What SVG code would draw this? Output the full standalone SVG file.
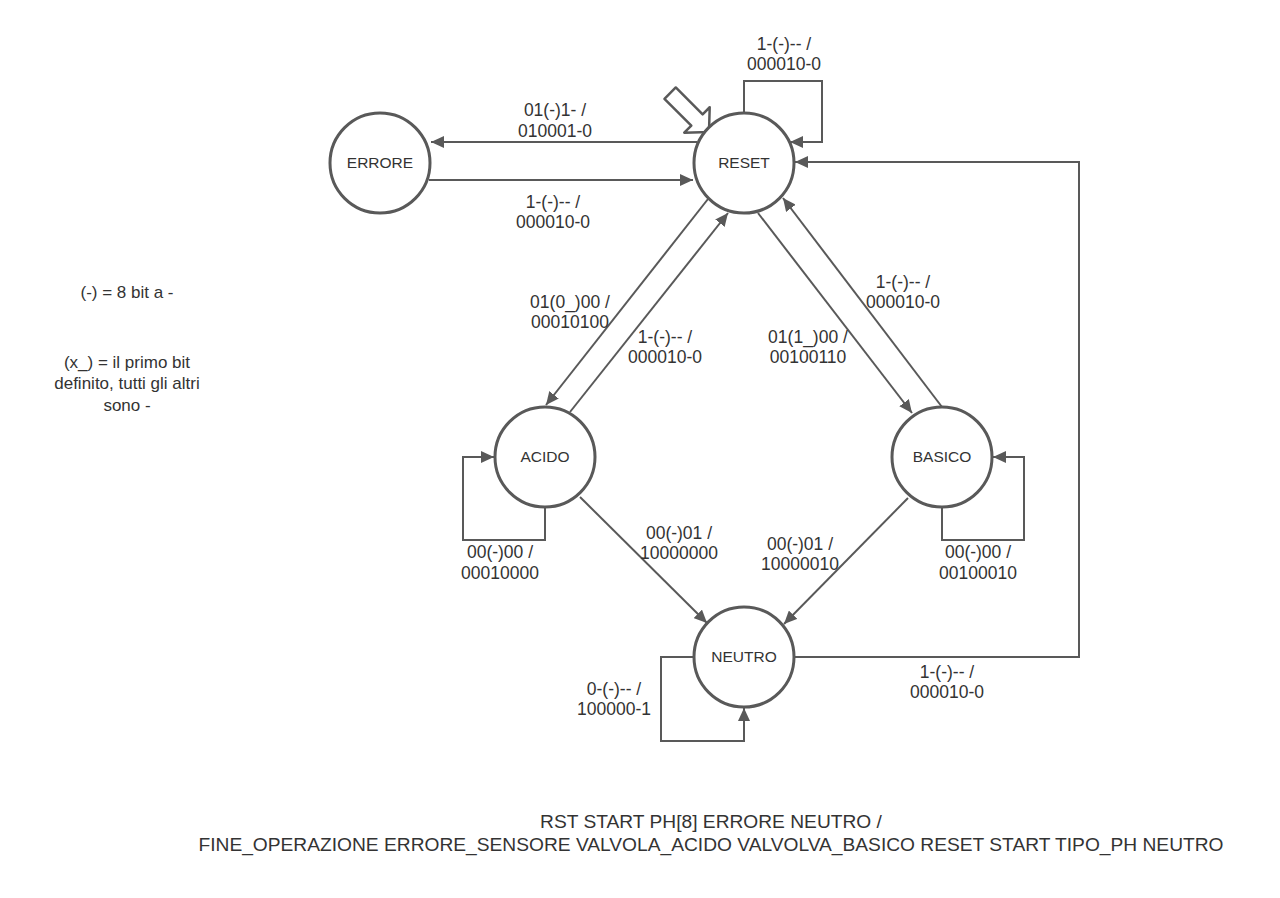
<svg xmlns="http://www.w3.org/2000/svg" width="1280" height="898" viewBox="0 0 1280 898">
<style>
.st{fill:#fff;stroke:#595959;stroke-width:3}
.nl{font-family:"Liberation Sans",Arial,sans-serif;font-size:15.5px;fill:#333;text-anchor:middle}
.c{fill:none;stroke:#595959;stroke-width:2}
.lb{font-family:"Liberation Sans",Arial,sans-serif;font-size:17.5px;fill:#333;text-anchor:middle}
.nt{font-family:"Liberation Sans",Arial,sans-serif;font-size:17px;fill:#333;text-anchor:middle}
.bt{font-family:"Liberation Sans",Arial,sans-serif;font-size:19.2px;fill:#333;text-anchor:middle}
</style>
<defs>
<marker id="ah" markerUnits="userSpaceOnUse" markerWidth="14" markerHeight="12" refX="13" refY="6" orient="auto">
<path d="M0,0 L13,6 L0,12 Z" fill="#595959"/>
</marker>
</defs>
<rect width="1280" height="898" fill="#fff"/>
<g id="connectors">
<path class="c" d="M697,142 L431,142" marker-end="url(#ah)"/>
<path class="c" d="M429,180 L693,180" marker-end="url(#ah)"/>
<path class="c" d="M744,113 L744,81 L822,81 L822,142 L790,142" marker-end="url(#ah)"/>
<path class="c" d="M708,199 L546,405" marker-end="url(#ah)"/>
<path class="c" d="M570,412 L728,213" marker-end="url(#ah)"/>
<path class="c" d="M758,213 L912,413" marker-end="url(#ah)"/>
<path class="c" d="M942,407 L783,198" marker-end="url(#ah)"/>
<path class="c" d="M545,507 L545,540 L463,540 L463,457 L494,457" marker-end="url(#ah)"/>
<path class="c" d="M942,507 L942,540 L1024,540 L1024,457 L993,457" marker-end="url(#ah)"/>
<path class="c" d="M580,497 L707,623" marker-end="url(#ah)"/>
<path class="c" d="M908,498 L784,624" marker-end="url(#ah)"/>
<path class="c" d="M794,657 L1079,657 L1079,162 L795,162" marker-end="url(#ah)"/>
<path class="c" d="M694,657 L661,657 L661,741 L744,741 L744,708" marker-end="url(#ah)"/>
<polygon points="0,0 -17,-18 -17,-8 -55,-8 -55,8 -17,8 -17,18" transform="translate(709,132) rotate(45)" fill="#fff" stroke="#595959" stroke-width="2.5" stroke-linejoin="round"/>
</g>
<g id="labels">
<text class="lb" x="784" y="50">1-(-)-- /</text>
<text class="lb" x="784" y="70">000010-0</text>
<text class="lb" x="555" y="116">01(-)1- /</text>
<text class="lb" x="555" y="137">010001-0</text>
<text class="lb" x="553" y="208">1-(-)-- /</text>
<text class="lb" x="553" y="228">000010-0</text>
<text class="lb" x="570" y="308">01(0_)00 /</text>
<text class="lb" x="570" y="328">00010100</text>
<text class="lb" x="665" y="343">1-(-)-- /</text>
<text class="lb" x="665" y="363">000010-0</text>
<text class="lb" x="808" y="343">01(1_)00 /</text>
<text class="lb" x="808" y="363">00100110</text>
<text class="lb" x="903" y="288">1-(-)-- /</text>
<text class="lb" x="903" y="308">000010-0</text>
<text class="lb" x="500" y="558">00(-)00 /</text>
<text class="lb" x="500" y="579">00010000</text>
<text class="lb" x="679" y="539">00(-)01 /</text>
<text class="lb" x="679" y="559">10000000</text>
<text class="lb" x="800" y="550">00(-)01 /</text>
<text class="lb" x="800" y="570">10000010</text>
<text class="lb" x="978" y="558">00(-)00 /</text>
<text class="lb" x="978" y="579">00100010</text>
<text class="lb" x="947" y="678">1-(-)-- /</text>
<text class="lb" x="947" y="698">000010-0</text>
<text class="lb" x="614" y="695">0-(-)-- /</text>
<text class="lb" x="614" y="715">100000-1</text>
</g>
<g id="RESET"><circle class="st" cx="744" cy="163" r="50"/><text class="nl" x="744" y="168">RESET</text></g>
<g id="ERRORE"><circle class="st" cx="380" cy="163" r="50"/><text class="nl" x="380" y="168">ERRORE</text></g>
<g id="ACIDO"><circle class="st" cx="545" cy="457" r="50"/><text class="nl" x="545" y="462">ACIDO</text></g>
<g id="BASICO"><circle class="st" cx="942" cy="457" r="50"/><text class="nl" x="942" y="462">BASICO</text></g>
<g id="NEUTRO"><circle class="st" cx="744" cy="657" r="50"/><text class="nl" x="744" y="662">NEUTRO</text></g>
<g id="notes">
<text class="nt" x="127" y="298">(-) = 8 bit a -</text>
<text class="nt" x="127" y="368">(x_) = il primo bit</text>
<text class="nt" x="127" y="389">definito, tutti gli altri</text>
<text class="nt" x="127" y="411">sono -</text>
<text class="bt" x="711" y="828">RST START PH[8] ERRORE NEUTRO /</text>
<text class="bt" x="711" y="851">FINE_OPERAZIONE ERRORE_SENSORE VALVOLA_ACIDO VALVOLVA_BASICO RESET START TIPO_PH NEUTRO</text>
</g>
</svg>
